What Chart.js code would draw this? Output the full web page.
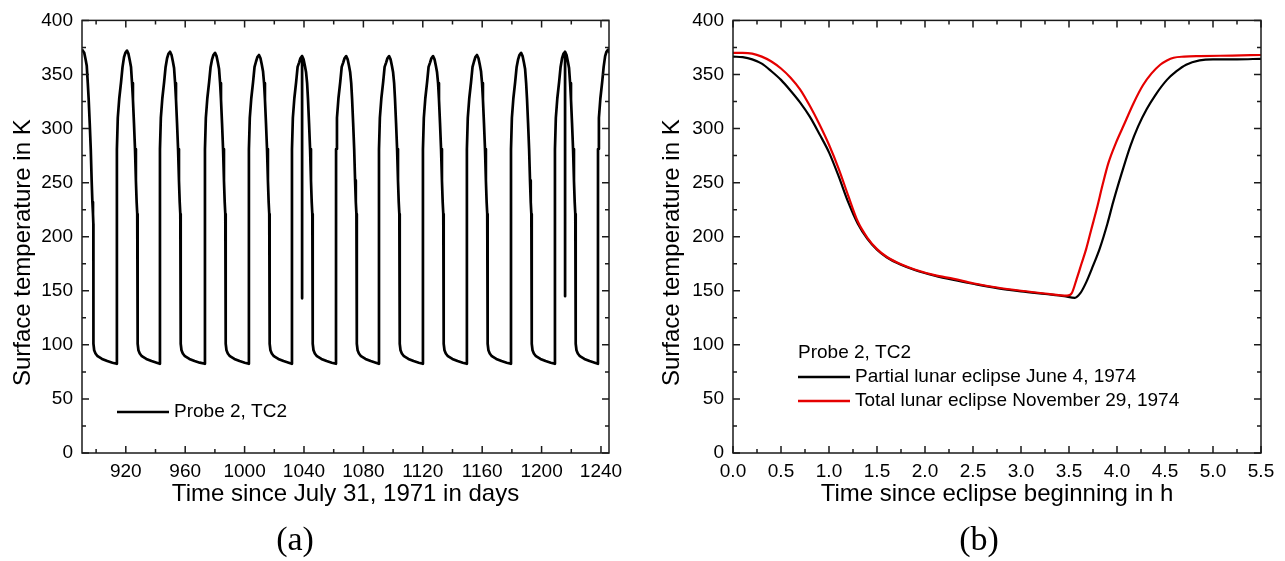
<!DOCTYPE html>
<html>
<head>
<meta charset="utf-8">
<script src="https://cdn.jsdelivr.net/npm/chart.js@4.4.1/dist/chart.umd.min.js"></script>
<style>
  body { margin: 0; background: #fff; }
  .box { position: absolute; top: 0; height: 561px; }
  .panel { position: absolute; top: 520px; width: 80px; height: 40px; line-height: 40px;
           text-align: center; font: 34px "Liberation Serif", "DejaVu Serif", serif; color: #000; }
</style>
</head>
<body>
<div class="box" style="left:0;width:640px"><canvas id="chartA"></canvas></div>
<div class="box" style="left:640px;width:645px"><canvas id="chartB"></canvas></div>
<div class="panel" style="left:255px">(a)</div>
<div class="panel" style="left:939px">(b)</div>
<script>
// ---- datos (a): Probe 2, TC2, una lunacion por linea ----
const probeDays = [
  890.5, 891.0, 892.0, 892.9, 893.7, 894.4, 895.0, 895.7, 896.4, 897.0, 897.5, 897.9, 898.15, 898.2, 898.7, 899.6, 901.0, 904.0, 907.5, 911.0, 913.95,
  914.0, 914.6, 915.6, 916.8, 917.8, 918.8, 919.7, 920.8, 921.8, 922.7, 923.5, 924.2, 924.8, 925.5, 926.2, 926.8, 927.3, 927.7, 927.95, 928.0, 928.5, 929.4, 930.8, 933.8, 937.3, 940.8, 942.95,
  943.0, 943.6, 944.6, 945.8, 946.8, 947.8, 948.7, 949.8, 950.8, 951.7, 952.5, 953.2, 953.8, 954.5, 955.2, 955.8, 956.3, 956.7, 956.95, 957.0, 957.5, 958.4, 959.8, 962.8, 966.3, 969.8, 973.25,
  973.3, 973.9, 974.9, 976.1, 977.1, 978.1, 979.0, 980.1, 981.1, 982.0, 982.8, 983.5, 984.1, 984.8, 985.5, 986.1, 986.6, 987.0, 987.25, 987.3, 987.8, 988.7, 990.1, 993.1, 996.6, 1000.1, 1002.85,
  1002.9, 1003.5, 1004.5, 1005.7, 1006.7, 1007.7, 1008.6, 1009.7, 1010.7, 1011.6, 1012.4, 1013.1, 1013.7, 1014.4, 1015.1, 1015.7, 1016.2, 1016.6, 1016.85, 1016.9, 1017.4, 1018.3, 1019.7, 1022.7, 1026.2, 1029.7, 1031.85,
  1031.9, 1032.5, 1033.5, 1034.7, 1035.7, 1036.7, 1037.6, 1038.7, 1038.72, 1038.74, 1039.7, 1040.6, 1041.4, 1042.1, 1042.7, 1043.4, 1044.1, 1044.7, 1045.2, 1045.6, 1045.85, 1045.9, 1046.4, 1047.3, 1048.7, 1051.7, 1055.2, 1058.7, 1061.55,
  1061.6, 1062.2, 1063.2, 1064.4, 1065.4, 1066.4, 1067.3, 1068.4, 1069.4, 1070.3, 1071.1, 1071.8, 1072.4, 1073.1, 1073.8, 1074.4, 1074.9, 1075.3, 1075.55, 1075.6, 1076.1, 1077.0, 1078.4, 1081.4, 1084.9, 1088.4, 1090.45,
  1090.5, 1091.1, 1092.1, 1093.3, 1094.3, 1095.3, 1096.2, 1097.3, 1098.3, 1099.2, 1100.0, 1100.7, 1101.3, 1102.0, 1102.7, 1103.3, 1103.8, 1104.2, 1104.45, 1104.5, 1105.0, 1105.9, 1107.3, 1110.3, 1113.8, 1117.3, 1120.05,
  1120.1, 1120.7, 1121.7, 1122.9, 1123.9, 1124.9, 1125.8, 1126.9, 1127.9, 1128.8, 1129.6, 1130.3, 1130.9, 1131.6, 1132.3, 1132.9, 1133.4, 1133.8, 1134.05, 1134.1, 1134.6, 1135.5, 1136.9, 1139.9, 1143.4, 1146.9, 1149.65,
  1149.7, 1150.3, 1151.3, 1152.5, 1153.5, 1154.5, 1155.4, 1156.5, 1157.5, 1158.4, 1159.2, 1159.9, 1160.5, 1161.2, 1161.9, 1162.5, 1163.0, 1163.4, 1163.65, 1163.7, 1164.2, 1165.1, 1166.5, 1169.5, 1173.0, 1176.5, 1179.35,
  1179.4, 1180.0, 1181.0, 1182.2, 1183.2, 1184.2, 1185.1, 1186.2, 1187.2, 1188.1, 1188.9, 1189.6, 1190.2, 1190.9, 1191.6, 1192.2, 1192.7, 1193.1, 1193.35, 1193.4, 1193.9, 1194.8, 1196.2, 1199.2, 1202.7, 1206.2, 1208.95,
  1209.0, 1209.6, 1210.6, 1211.8, 1212.8, 1213.8, 1214.7, 1215.8, 1215.82, 1215.84, 1216.8, 1217.7, 1218.5, 1219.2, 1219.8, 1220.5, 1221.2, 1221.8, 1222.3, 1222.7, 1222.95, 1223.0, 1223.5, 1224.4, 1225.8, 1228.8, 1232.3, 1235.8, 1237.95,
  1238.0, 1238.6, 1239.6, 1240.8, 1241.8, 1242.8, 1243.7, 1244.8, 1245.8
];
const probeTemps = [
  373, 373, 370, 364, 358, 342, 327, 305, 281, 252, 232, 221, 212, 101, 95, 92, 89.5, 87, 85, 83.5, 82.5,
  281, 310, 328, 343, 357, 366, 370, 372, 369, 363, 357, 342, 327, 305, 281, 252, 232, 221, 212, 101, 95, 92, 89.5, 87, 85, 83.5, 82.5,
  281, 310, 328, 343, 357, 365, 369, 371, 368, 362, 356, 342, 327, 305, 281, 252, 232, 221, 212, 101, 95, 92, 89.5, 87, 85, 83.5, 82.5,
  281, 310, 328, 343, 357, 364, 368, 370, 367, 361, 355, 342, 327, 305, 281, 252, 232, 221, 212, 101, 95, 92, 89.5, 87, 85, 83.5, 82.5,
  281, 310, 328, 343, 357, 362, 366, 368, 365, 359, 353, 342, 327, 305, 281, 252, 232, 221, 212, 101, 95, 92, 89.5, 87, 85, 83.5, 82.5,
  281, 310, 328, 343, 357, 361, 365, 367, 143, 367, 364, 358, 352, 342, 327, 305, 281, 252, 232, 221, 212, 101, 95, 92, 89.5, 87, 85, 83.5, 82.5,
  281, 310, 328, 343, 357, 361, 365, 367, 364, 358, 352, 342, 327, 305, 281, 252, 232, 221, 212, 101, 95, 92, 89.5, 87, 85, 83.5, 82.5,
  281, 310, 328, 343, 357, 361, 365, 367, 364, 358, 352, 342, 327, 305, 281, 252, 232, 221, 212, 101, 95, 92, 89.5, 87, 85, 83.5, 82.5,
  281, 310, 328, 343, 357, 361, 365, 367, 364, 358, 352, 342, 327, 305, 281, 252, 232, 221, 212, 101, 95, 92, 89.5, 87, 85, 83.5, 82.5,
  281, 310, 328, 343, 357, 362, 366, 368, 365, 359, 353, 342, 327, 305, 281, 252, 232, 221, 212, 101, 95, 92, 89.5, 87, 85, 83.5, 82.5,
  281, 310, 328, 343, 357, 364, 368, 370, 367, 361, 355, 342, 327, 305, 281, 252, 232, 221, 212, 101, 95, 92, 89.5, 87, 85, 83.5, 82.5,
  281, 310, 328, 343, 357, 365, 369, 371, 145, 371, 368, 362, 356, 342, 327, 305, 281, 252, 232, 221, 212, 101, 95, 92, 89.5, 87, 85, 83.5, 82.5,
  281, 310, 328, 343, 357, 367, 371, 373, 370
];

// ---- datos (b): eclipses ----
const partialHours = [0, 0.1, 0.2, 0.3, 0.4, 0.5, 0.6, 0.7, 0.8, 0.9, 1.0, 1.1, 1.2, 1.3, 1.4, 1.5, 1.6, 1.75, 1.9, 2.1, 2.3, 2.5, 2.75, 3.0, 3.25, 3.45, 3.56, 3.62, 3.68, 3.75, 3.82, 3.9, 3.96, 4.05, 4.14, 4.22, 4.31, 4.4, 4.52, 4.62, 4.72, 4.86, 5.0, 5.25, 5.5];
const partialTemps = [366.5, 366, 364, 360, 353, 345, 335, 324, 311, 295, 278, 256, 232, 212, 198, 188, 181, 174, 169, 164, 160, 156.5, 152.5, 149.5, 147, 145, 143.5, 148, 158, 173, 189, 212, 232, 259, 284, 302, 318, 331, 345, 353, 359, 363, 364, 364, 364.5];
const totalHours = [0, 0.1, 0.2, 0.3, 0.4, 0.5, 0.6, 0.7, 0.8, 0.9, 1.0, 1.1, 1.2, 1.3, 1.4, 1.5, 1.6, 1.75, 1.9, 2.1, 2.3, 2.5, 2.75, 3.0, 3.25, 3.48, 3.53, 3.58, 3.63, 3.68, 3.73, 3.79, 3.85, 3.91, 3.99, 4.07, 4.17, 4.27, 4.36, 4.45, 4.52, 4.59, 4.7, 4.86, 5.2, 5.5];
const totalTemps = [370, 370, 369.3, 366.5, 362, 355.5, 347, 336, 321, 304, 285, 263, 238, 214, 199, 188.5, 181.5, 174.5, 169.5, 164.5, 161, 157, 153, 150, 147.5, 145.5, 148, 161, 175, 189, 206, 226, 248, 268, 287, 303, 323, 340, 351, 359, 363, 365.5, 366.5, 367, 367.5, 368];

// ---- ticks ----
const dayTicks = [900, 920, 940, 960, 980, 1000, 1020, 1040, 1060, 1080, 1100, 1120, 1140, 1160, 1180, 1200, 1220, 1240];
const tempTicks = [0, 25, 50, 75, 100, 125, 150, 175, 200, 225, 250, 275, 300, 325, 350, 375, 400];
const hourTicks = [0, 0.25, 0.5, 0.75, 1, 1.25, 1.5, 1.75, 2, 2.25, 2.5, 2.75, 3, 3.25, 3.5, 3.75, 4, 4.25, 4.5, 4.75, 5, 5.25, 5.5];

const yTitle = "Surface temperature in K";
const legendTitleB = "Probe 2, TC2";

const SANS = "'Liberation Sans', Arial, sans-serif";
Chart.defaults.font.family = SANS;
Chart.defaults.color = "#000";

function toXY(xs, ys) {
  return xs.map((x, i) => ({ x: x, y: ys[i] }));
}

// marco con ticks hacia dentro, titulo Y y leyenda
const framePlugin = {
  id: "frame",
  afterDraw(chart, args, opts) {
    const { ctx, chartArea: a, scales } = chart;
    ctx.save();
    ctx.strokeStyle = "#1a1a1a";
    ctx.lineWidth = 1.5;
    ctx.strokeRect(a.left, a.top, a.right - a.left, a.bottom - a.top);
    ctx.beginPath();
    scales.x.ticks.forEach(t => {
      const px = scales.x.getPixelForValue(t.value);
      const len = t.label === "" ? 4 : 7;
      ctx.moveTo(px, a.bottom); ctx.lineTo(px, a.bottom - len);
      ctx.moveTo(px, a.top); ctx.lineTo(px, a.top + len);
    });
    scales.y.ticks.forEach(t => {
      const py = scales.y.getPixelForValue(t.value);
      const len = t.label === "" ? 4 : 7;
      ctx.moveTo(a.left, py); ctx.lineTo(a.left + len, py);
      ctx.moveTo(a.right, py); ctx.lineTo(a.right - len, py);
    });
    ctx.stroke();

    // titulo eje Y
    ctx.fillStyle = "#000";
    ctx.font = "24px " + SANS;
    ctx.textAlign = "center";
    ctx.textBaseline = "middle";
    ctx.save();
    ctx.translate(a.left - opts.yTitleGap, (a.top + a.bottom) / 2 + 16);
    ctx.rotate(-Math.PI / 2);
    ctx.fillText(yTitle, 0, 0);
    ctx.restore();

    // leyenda
    const lg = opts.legend;
    ctx.font = "19px " + SANS;
    ctx.textAlign = "left";
    let y = a.bottom - lg.fromBottom;
    if (lg.title) {
      ctx.fillText(lg.title, a.left + lg.x, y - lg.gap);
    }
    chart.data.datasets.forEach(ds => {
      ctx.strokeStyle = ds.borderColor;
      ctx.lineWidth = 2.5;
      ctx.beginPath();
      ctx.moveTo(a.left + lg.x, y);
      ctx.lineTo(a.left + lg.x + 52, y);
      ctx.stroke();
      ctx.fillText(ds.label, a.left + lg.x + 57, y);
      y += lg.gap;
    });
    ctx.restore();
  }
};

function axisTitle(text) {
  return { display: true, text: text, font: { size: 24 }, color: "#000", padding: { top: 0, bottom: 24 } };
}

// GRAFICO (a)
new Chart(document.getElementById("chartA"), {
  type: "line",
  data: {
    datasets: [{
      label: "Probe 2, TC2",
      data: toXY(probeDays, probeTemps),
      borderColor: "#000",
      borderWidth: 2.7,
      borderJoinStyle: "round",
      pointRadius: 0,
      tension: 0
    }]
  },
  options: {
    responsive: true,
    maintainAspectRatio: false,
    animation: false,
    layout: { padding: { left: 0, top: 17, right: 31, bottom: 28 } },
    plugins: {
      legend: { display: false },
      tooltip: { enabled: false },
      frame: { yTitleGap: 59, legend: { x: 35, fromBottom: 41, gap: 24 } }
    },
    scales: {
      x: {
        type: "linear", min: 890.5, max: 1245.4,
        afterBuildTicks: axis => { axis.ticks = dayTicks.map(v => ({ value: v })); },
        afterFit: s => { s.height = 80; },
        ticks: { autoSkip: false, maxRotation: 0, padding: 7, font: { size: 19 }, color: "#000",
                 callback: v => (v % 40 === 0 ? String(v) : "") },
        grid: { display: false, drawTicks: false },
        border: { display: false },
        title: axisTitle("Time since July 31, 1971 in days")
      },
      y: {
        min: 0, max: 400,
        afterBuildTicks: axis => { axis.ticks = tempTicks.map(v => ({ value: v })); },
        afterFit: s => { s.width = 82; },
        ticks: { autoSkip: false, padding: 9, font: { size: 19 }, color: "#000",
                 callback: v => (v % 50 === 0 ? String(v) : "") },
        grid: { display: false, drawTicks: false },
        border: { display: false }
      }
    }
  },
  plugins: [framePlugin]
});

// GRAFICO (b)
new Chart(document.getElementById("chartB"), {
  type: "line",
  data: {
    datasets: [
      {
        label: "Partial lunar eclipse June 4, 1974",
        data: toXY(partialHours, partialTemps),
        borderColor: "#000",
        borderWidth: 2.2,
        pointRadius: 0,
        cubicInterpolationMode: "monotone",
        order: 1
      },
      {
        label: "Total lunar eclipse November 29, 1974",
        data: toXY(totalHours, totalTemps),
        borderColor: "#e50000",
        borderWidth: 2.2,
        pointRadius: 0,
        cubicInterpolationMode: "monotone",
        order: 0
      }
    ]
  },
  options: {
    responsive: true,
    maintainAspectRatio: false,
    animation: false,
    layout: { padding: { left: 0, top: 17, right: 24, bottom: 28 } },
    plugins: {
      legend: { display: false },
      tooltip: { enabled: false },
      frame: { yTitleGap: 61, legend: { x: 65, fromBottom: 76, gap: 24, title: legendTitleB } }
    },
    scales: {
      x: {
        type: "linear", min: 0, max: 5.5,
        afterBuildTicks: axis => { axis.ticks = hourTicks.map(v => ({ value: v })); },
        afterFit: s => { s.height = 80; },
        ticks: { autoSkip: false, maxRotation: 0, padding: 7, font: { size: 19 }, color: "#000",
                 callback: v => (Number.isInteger(v * 2) ? v.toFixed(1) : "") },
        grid: { display: false, drawTicks: false },
        border: { display: false },
        title: axisTitle("Time since eclipse beginning in h")
      },
      y: {
        min: 0, max: 400,
        afterBuildTicks: axis => { axis.ticks = tempTicks.map(v => ({ value: v })); },
        afterFit: s => { s.width = 93; },
        ticks: { autoSkip: false, padding: 9, font: { size: 19 }, color: "#000",
                 callback: v => (v % 50 === 0 ? String(v) : "") },
        grid: { display: false, drawTicks: false },
        border: { display: false }
      }
    }
  },
  plugins: [framePlugin]
});
</script>
</body>
</html>
